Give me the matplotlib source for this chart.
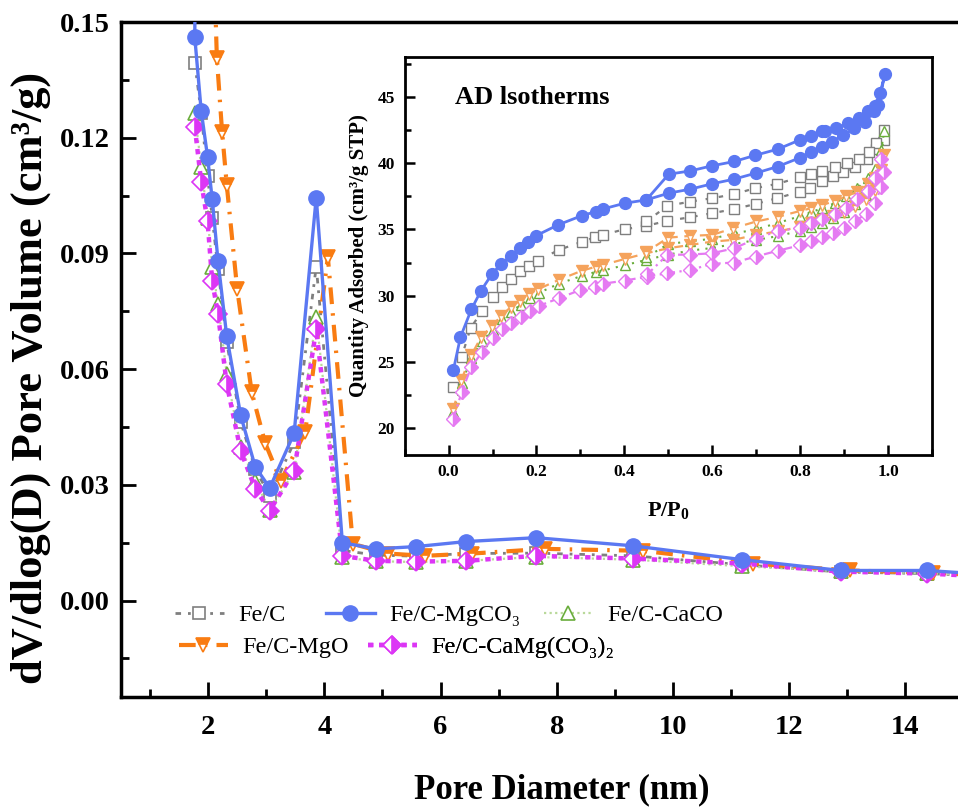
import matplotlib
matplotlib.use("Agg")
import matplotlib.pyplot as plt
from matplotlib.ticker import MultipleLocator

plt.rcParams['font.family'] = ['Liberation Serif', 'DejaVu Serif']
plt.rcParams['mathtext.fontset'] = 'custom'
plt.rcParams['mathtext.rm'] = 'Liberation Serif'
plt.rcParams['mathtext.bf'] = 'Liberation Serif:bold'

# ---------------- main chart data (pore size distribution) ----------------
blue_x = [1.78, 1.77, 1.88, 1.99, 2.07, 2.17, 2.32, 2.56, 2.81, 3.06, 3.48, 3.86,
          4.31, 4.89, 5.58, 6.44, 7.64, 9.31, 11.19, 12.89, 14.37, 16.0]
mgco3_y = [0.175, 0.146, 0.127, 0.115, 0.104, 0.088, 0.0685, 0.048, 0.0347, 0.0292,
           0.0434, 0.1045, 0.0150, 0.0134, 0.0140, 0.0153, 0.0163, 0.0142, 0.0106,
           0.0078, 0.0078, 0.0062]
pore_x = [1.77, 1.88, 1.99, 2.07, 2.17, 2.32, 2.56, 2.81, 3.06, 3.48, 3.86,
          4.31, 4.89, 5.58, 6.44, 7.64, 9.31, 11.19, 12.89, 14.37, 16.0]
fec_y = [0.1394, 0.1265, 0.110, 0.0993, 0.0859, 0.067, 0.0463, 0.0341, 0.0272,
         0.0411, 0.0866, 0.0130, 0.0118, 0.0115, 0.0122, 0.0123, 0.0116, 0.0093,
         0.0074, 0.0070, 0.0060]
caco_y = [0.1265, 0.1125, 0.0993, 0.0866, 0.0768, 0.0587, 0.0398, 0.031, 0.0235,
          0.0334, 0.0735, 0.0112, 0.0102, 0.0100, 0.0103, 0.0113, 0.0106, 0.0089,
          0.0076, 0.0071, 0.0060]
camg_y = [0.1228, 0.1086, 0.0983, 0.0828, 0.0742, 0.0561, 0.0388, 0.029, 0.0233,
          0.0336, 0.0703, 0.0116, 0.0103, 0.0101, 0.0103, 0.0116, 0.0109, 0.0096,
          0.0075, 0.0070, 0.0058]
mgo_x = [2.10, 2.15, 2.24, 2.32, 2.50, 2.75, 2.98, 3.25, 3.67, 4.06, 4.49, 5.09,
         5.73, 6.54, 7.80, 9.48, 11.38, 13.05, 14.47, 16.0]
mgo_y = [0.165, 0.1407, 0.1215, 0.1078, 0.0807, 0.054, 0.0409, 0.031, 0.0437,
         0.089, 0.0147, 0.0122, 0.0116, 0.0122, 0.0134, 0.0129, 0.0096, 0.0078,
         0.0072, 0.0062]

x_ticks = [2, 4, 6, 8, 10, 12, 14]
y_ticks = [0.00, 0.03, 0.06, 0.09, 0.12, 0.15]

# ---------------- inset data (adsorption / desorption isotherms) ----------------
mgco3_p_ads = [0.011, 0.027, 0.052, 0.074, 0.099, 0.12, 0.141, 0.162, 0.181, 0.2, 0.249,
               0.304, 0.336, 0.352, 0.401, 0.45, 0.501, 0.55, 0.599, 0.65, 0.699, 0.749,
               0.80, 0.824, 0.849, 0.872, 0.898, 0.923, 0.948, 0.968, 0.978, 0.993]
mgco3_q_ads = [24.38, 26.86, 28.97, 30.38, 31.64, 32.4, 33.0, 33.58, 34.08, 34.54, 35.34,
               36.05, 36.35, 36.55, 36.98, 37.23, 37.74, 38.04, 38.44, 38.8, 39.25, 39.75,
               40.42, 40.85, 41.22, 41.64, 42.1, 42.65, 43.15, 43.98, 44.4, 46.76]
mgco3_p_des = [0.982, 0.97, 0.955, 0.933, 0.908, 0.882, 0.857, 0.849, 0.824, 0.80, 0.749,
               0.698, 0.65, 0.599, 0.55, 0.501, 0.45]
mgco3_q_des = [45.3, 44.29, 43.91, 43.41, 43.03, 42.65, 42.47, 42.4, 42.07, 41.77, 41.06,
               40.6, 40.13, 39.8, 39.42, 39.17, 37.23]

fec_p_ads = [0.011, 0.03, 0.05, 0.077, 0.101, 0.122, 0.141, 0.162, 0.183, 0.203, 0.251,
             0.304, 0.334, 0.352, 0.401, 0.45, 0.498, 0.55, 0.6, 0.65, 0.699, 0.748, 0.80,
             0.823, 0.849, 0.874, 0.898, 0.925, 0.951, 0.973, 0.99]
fec_q_ads = [23.12, 25.39, 27.54, 28.87, 29.88, 30.63, 31.24, 31.87, 32.25, 32.65, 33.45,
             34.08, 34.41, 34.59, 35.02, 35.27, 35.65, 35.92, 36.23, 36.53, 36.93, 37.36,
             37.86, 38.12, 38.69, 39.0, 39.3, 39.75, 40.31, 41.06, 41.77]
fec_p_des = [0.991, 0.973, 0.957, 0.933, 0.906, 0.88, 0.849, 0.824, 0.80, 0.748, 0.698,
             0.65, 0.6, 0.55, 0.498, 0.45]
fec_q_des = [42.52, 41.52, 40.88, 40.33, 40.05, 39.75, 39.42, 39.17, 38.95, 38.44, 38.12,
             37.66, 37.36, 37.1, 36.78, 35.6]

mgo_p_ads = [0.011, 0.029, 0.052, 0.074, 0.099, 0.12, 0.141, 0.162, 0.183, 0.203, 0.251,
             0.304, 0.336, 0.352, 0.401, 0.45, 0.5, 0.55, 0.6, 0.648, 0.699, 0.75, 0.8,
             0.825, 0.85, 0.875, 0.9, 0.925, 0.95, 0.97, 0.985, 0.99]
mgo_q_ads = [21.41, 23.63, 25.52, 26.86, 27.71, 28.47, 29.12, 29.62, 30.1, 30.48, 31.19,
             31.89, 32.19, 32.32, 32.77, 33.2, 33.58, 33.83, 34.08, 34.21, 34.59, 34.85,
             35.2, 35.45, 35.7, 36.0, 36.35, 36.75, 37.3, 38.0, 39.0, 40.6]
mgo_p_des = [0.985, 0.97, 0.955, 0.93, 0.905, 0.88, 0.85, 0.825, 0.8, 0.75, 0.7, 0.648,
             0.6, 0.55, 0.5, 0.45]
mgo_q_des = [39.5, 38.9, 38.4, 37.85, 37.5, 37.15, 36.85, 36.6, 36.4, 35.95, 35.6, 35.09,
             34.59, 34.51, 34.38, 33.3]

caco_p_ads = [0.011, 0.03, 0.052, 0.077, 0.101, 0.122, 0.143, 0.164, 0.185, 0.205, 0.251,
              0.304, 0.336, 0.352, 0.401, 0.45, 0.5, 0.55, 0.6, 0.65, 0.7, 0.75, 0.8,
              0.825, 0.85, 0.875, 0.9, 0.925, 0.95, 0.97, 0.985, 0.99]
caco_q_ads = [21.2, 23.4, 25.3, 26.6, 27.4, 28.2, 28.8, 29.3, 29.8, 30.2, 30.9, 31.5,
              31.8, 31.9, 32.3, 32.7, 33.1, 33.4, 33.6, 33.9, 34.2, 34.5, 34.9, 35.2,
              35.5, 35.9, 36.3, 36.9, 37.6, 38.6, 40.0, 42.4]
caco_p_des = [0.985, 0.97, 0.955, 0.93, 0.905, 0.88, 0.85, 0.825, 0.8, 0.75, 0.7, 0.65,
              0.6, 0.55, 0.5, 0.45]
caco_q_des = [41.0, 39.6, 38.9, 38.1, 37.5, 37.0, 36.6, 36.3, 36.0, 35.5, 35.0, 34.7,
              34.3, 34.1, 33.9, 32.9]

camg_p_ads = [0.011, 0.03, 0.052, 0.077, 0.101, 0.122, 0.143, 0.164, 0.185, 0.205, 0.251,
              0.3, 0.334, 0.352, 0.402, 0.452, 0.498, 0.55, 0.6, 0.65, 0.699, 0.75, 0.8,
              0.825, 0.85, 0.875, 0.9, 0.925, 0.95, 0.97, 0.985, 0.99]
camg_q_ads = [20.66, 22.74, 24.63, 25.77, 26.83, 27.46, 27.96, 28.41, 28.87, 29.22, 29.8,
              30.43, 30.63, 30.9, 31.14, 31.44, 31.69, 31.94, 32.4, 32.5, 32.95, 33.4,
              33.8, 34.1, 34.4, 34.75, 35.1, 35.6, 36.2, 37.0, 38.2, 39.3]
camg_p_des = [0.985, 0.97, 0.955, 0.93, 0.905, 0.88, 0.85, 0.825, 0.8, 0.75, 0.7, 0.65,
              0.6, 0.55, 0.498, 0.452]
camg_q_des = [40.3, 38.9, 37.9, 37.3, 36.6, 36.2, 35.8, 35.5, 35.1, 34.9, 34.3, 33.58,
              33.2, 33.1, 33.08, 31.6]

inset_x_ticks = [0.0, 0.2, 0.4, 0.6, 0.8, 1.0]
inset_y_ticks = [20, 25, 30, 35, 40, 45]

labels = ['Fe/C', 'Fe/C-MgCO₃', 'Fe/C-CaCO', 'Fe/C-MgO', 'Fe/C-CaMg(CO₃)₂']

# ---------------- styles ----------------
C_GRAY = '#7f7f7f'
C_BLUE = '#5b78f2'
C_GREEN = '#6aad3c'
C_ORANGE = '#f97c12'
C_MAG = '#dc36f5'
C_ORANGE_IN = '#f5a35c'
C_MAG_IN = '#e57af2'

W, H = 958, 807
fig = plt.figure(figsize=(W / 100, H / 100), dpi=100)

# main axes: x from 0.5 (px 121) to 15 (px ~963), y from -0.025 (px 697) to 0.15 (px 22)
ax = fig.add_axes([121 / W, (H - 697) / H, (963.5 - 121) / W, (697 - 22) / H])
ax.set_xlim(0.5, 15)
ax.set_ylim(-0.025, 0.15)

l_fec, = ax.plot(pore_x, fec_y, color=C_GRAY, lw=2.0, ls=(0, (2, 2.5, 1, 2.5)),
                 marker='s', ms=9, mfc='white', mec=C_GRAY, mew=1.2, zorder=3)
l_caco, = ax.plot(pore_x, caco_y, color='#b9d99a', lw=1.6, ls=(0, (1, 1.5)),
                  marker='^', ms=10, mfc='white', mec=C_GREEN, mew=1.2, zorder=4)
l_mgo, = ax.plot(mgo_x, mgo_y, color=C_ORANGE, lw=3.0, ls=(0, (4, 2.2, 0.6, 2.2)),
                 marker='v', ms=10.5, fillstyle='top', mfc=C_ORANGE, mfcalt='white',
                 mec=C_ORANGE, mew=1.2, zorder=5)
l_camg, = ax.plot(pore_x, camg_y, color=C_MAG, lw=3.2, ls=(0, (1.2, 1.3)),
                  marker='D', ms=9.5, fillstyle='right', mfc=C_MAG, mfcalt='white',
                  mec=C_MAG, mew=1.2, zorder=6)
l_mgco3, = ax.plot(blue_x, mgco3_y, color=C_BLUE, lw=2.4, ls='-',
                   marker='o', ms=11, mfc=C_BLUE, mec=C_BLUE, zorder=7)

ax.set_xticks(x_ticks)
ax.set_yticks(y_ticks)
ax.xaxis.set_minor_locator(MultipleLocator(1))
ax.yaxis.set_minor_locator(MultipleLocator(0.015))
ax.tick_params(axis='both', which='major', direction='in', length=11, width=2,
               labelsize=20.5)
ax.tick_params(axis='both', which='minor', direction='in', length=6, width=2)
ax.tick_params(axis='x', which='major', pad=13)
ax.tick_params(axis='y', which='major', pad=8)
ax.set_yticklabels(['%.2f' % v for v in y_ticks])
for t in ax.get_xticklabels() + ax.get_yticklabels():
    t.set_fontweight('bold')
for s in ax.spines.values():
    s.set_linewidth(2.5)

fig.text(562 / W, 1 - 790 / H, 'Pore Diameter (nm)', ha='center', va='center',
         fontsize=25, fontweight='bold')
fig.text(31 / W, 1 - 378 / H, 'dV/dlog(D) Pore Volume (cm³/g)', ha='center',
         va='center', rotation=90, fontsize=32, fontweight='bold')

# legend: one entry per legend to match the free layout of the reference
leg_spec = [(l_fec, labels[0], 175, 615), (l_mgco3, labels[1], 326, 615),
            (l_caco, labels[2], 544, 615), (l_mgo, labels[3], 179, 647),
            (l_camg, labels[4], 368, 647)]
for h, lab, px, py in leg_spec:
    lg = ax.legend([h], [lab], loc='center left', bbox_to_anchor=(px / W, 1 - py / H),
                   bbox_transform=fig.transFigure, frameon=False, borderpad=0,
                   borderaxespad=0, handlelength=2.0, handletextpad=0.6,
                   prop={'family': ['Liberation Serif', 'DejaVu Serif'], 'size': 17.5})
    ax.add_artist(lg)

# ---------------- inset ----------------
ax2 = fig.add_axes([404.6 / W, (H - 454.5) / H, (932 - 404.6) / W, (454.5 - 57.3) / H])
ax2.set_xlim(-0.1, 1.1)
ax2.set_ylim(18, 48)

ax2.plot(fec_p_ads + fec_p_des, fec_q_ads + fec_q_des, color=C_GRAY, lw=1.6,
         ls=(0, (2, 4)), marker='s', ms=7.5, mfc='white', mec=C_GRAY, mew=1.0, zorder=3)
ax2.plot(caco_p_ads + caco_p_des, caco_q_ads + caco_q_des, color=C_GREEN, lw=1.5,
         ls=(0, (1, 3)), marker='^', ms=7.5, mfc='white', mec=C_GREEN, mew=1.0, zorder=4)
ax2.plot(mgo_p_ads + mgo_p_des, mgo_q_ads + mgo_q_des, color=C_ORANGE_IN, lw=1.6,
         ls=(0, (4, 3)), marker='v', ms=8, fillstyle='top', mfc=C_ORANGE_IN,
         mfcalt='white', mec=C_ORANGE_IN, mew=1.0, zorder=5)
ax2.plot(camg_p_ads + camg_p_des, camg_q_ads + camg_q_des, color=C_MAG_IN, lw=1.6,
         ls=(0, (4, 2, 1, 2)), marker='D', ms=7.5, fillstyle='right', mfc=C_MAG_IN,
         mfcalt='white', mec=C_MAG_IN, mew=1.0, zorder=6)
ax2.plot(mgco3_p_ads + mgco3_p_des, mgco3_q_ads + mgco3_q_des, color=C_BLUE, lw=2.0,
         marker='o', ms=8.5, mfc=C_BLUE, mec=C_BLUE, zorder=7)

ax2.set_xticks(inset_x_ticks)
ax2.set_yticks(inset_y_ticks)
ax2.xaxis.set_minor_locator(MultipleLocator(0.1))
ax2.yaxis.set_minor_locator(MultipleLocator(2.5))
ax2.tick_params(axis='both', which='major', direction='in', length=7, width=1.8,
                labelsize=12.5, pad=7)
ax2.tick_params(axis='both', which='minor', direction='in', length=4, width=1.8)
ax2.set_xticklabels(['%.1f' % v for v in inset_x_ticks])
for t in ax2.get_xticklabels() + ax2.get_yticklabels():
    t.set_fontweight('bold')
for s in ax2.spines.values():
    s.set_linewidth(2.0)

ax2.set_xlabel(r'$\mathbf{P/P_0}$', fontsize=16, labelpad=14)
ax2.set_ylabel('Quantity Adsorbed (cm³/g STP)', fontsize=15, fontweight='bold')
ax2.yaxis.set_label_coords(-0.068, 0.5)
ax2.text(0.0956, 0.9, 'AD lsotherms', transform=ax2.transAxes, ha='left', va='center',
         fontsize=19, fontweight='bold')

fig.savefig('out.png', dpi=100)
